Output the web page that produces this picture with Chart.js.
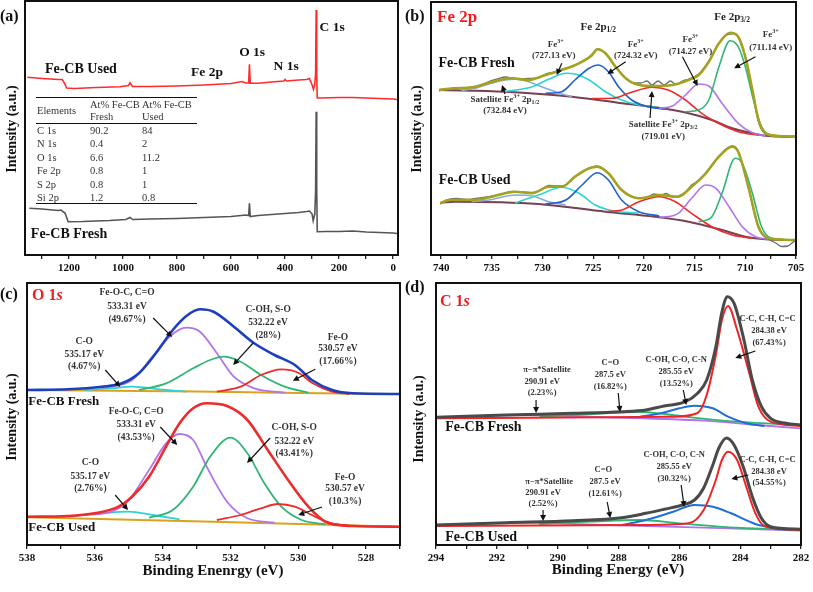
<!DOCTYPE html>
<html><head><meta charset="utf-8">
<script src="https://cdn.jsdelivr.net/npm/chart.js@4.4.1/dist/chart.umd.min.js"></script>
<style>
html,body{margin:0;padding:0;background:#fff;}
body{width:813px;height:592px;overflow:hidden;position:relative;font-family:"Liberation Serif","DejaVu Serif",serif;}
canvas{position:absolute;left:0;top:0;}
.t{position:absolute;white-space:nowrap;font-weight:bold;color:#111;line-height:1;}
.c{transform:translate(-50%,-50%);}
.l{transform:translateY(-50%);}
.r90{transform:translate(-50%,-50%) rotate(-90deg);}
.tb{position:absolute;white-space:nowrap;font-size:10.5px;color:#333;line-height:1;transform:translateY(-50%);}
.hl{position:absolute;height:0;border-top:1.5px solid #111;}
</style></head><body>
<canvas id="pa" width="813" height="592"></canvas>
<canvas id="pb" width="813" height="592"></canvas>
<canvas id="pc" width="813" height="592"></canvas>
<canvas id="pd" width="813" height="592"></canvas>

<div class="t l" style="left:0px;top:16px;font-size:16px;">(a)</div>
<div class="t l" style="left:405px;top:16px;font-size:16px;">(b)</div>
<div class="t l" style="left:0px;top:294px;font-size:16px;">(c)</div>
<div class="t l" style="left:405px;top:287px;font-size:16px;">(d)</div>
<div class="t l" style="left:437px;top:16px;font-size:17px;color:#f01e1e;">Fe 2p</div>
<div class="t l" style="left:32px;top:295px;font-size:16px;color:#f01e1e;">O 1<i>s</i></div>
<div class="t l" style="left:440px;top:301px;font-size:16px;color:#f01e1e;">C 1<i>s</i></div>
<div class="t r90" style="left:12px;top:129px;font-size:14px;">Intensity (a.u.)</div>
<div class="t r90" style="left:417px;top:129px;font-size:14px;">Intensity (a.u.)</div>
<div class="t r90" style="left:12px;top:417px;font-size:14px;">Intensity (a.u.)</div>
<div class="t r90" style="left:419px;top:419px;font-size:14px;">Intensity (a.u.)</div>
<div class="t c" style="left:213px;top:570px;font-size:15px;">Binding Enenrgy (eV)</div>
<div class="t c" style="left:618px;top:569px;font-size:15px;">Binding Energy (eV)</div>

<div id="tbl"></div>

<script>
// ---------------- DATA (binding energy eV, intensity a.u.) ----------------
// (a) survey spectra
const surveyUsed = [[1354,177.7],[1300,176.5],[1240,175.5],[1225,175.5],[1215,171],[1209,167],[1180,166.5],[1100,167.5],[1011,168.3],[980,169.5],[974,172.3],[965,168.5],[900,168.5],[800,169],[700,170],[600,171.5],[560,173.5],[545,172],[535,172],[532,190.7],[529,171.7],[500,171.7],[450,173],[405,174],[400,175.5],[395,174],[350,175],[320,175.5],[310,176.5],[300,170],[295,165.7],[290,171],[287,182],[285,245],[283,182],[281,157],[270,157],[200,157.5],[150,157.5],[100,157],[50,156.5],[0,156],[-14,155.5]];
const surveyFresh = [[1347,46.7],[1300,46],[1240,44.5],[1230,45],[1215,42],[1203,33.3],[1150,33.5],[1050,34.5],[990,35.5],[974,37.5],[965,35.5],[900,36],[800,36.5],[700,37.5],[600,38.5],[545,40],[535,39.5],[532,51.7],[529,38.5],[500,39.5],[450,40.5],[400,41.5],[350,42.5],[320,43.5],[310,44],[300,41],[296,34.3],[290,41],[287,65],[285,143.3],[283,70],[281,23.3],[250,23.5],[200,23.5],[150,24],[100,23],[50,22.5],[0,22],[-14,21.5]];
const tableHeader = ["Elements", "At% Fe-CB Fresh", "At% Fe-CB Used"];
const tableElements = ["C 1s","N 1s","O 1s","Fe 2p","S 2p","Si 2p"];
const atFresh = ["90.2","0.4","6.6","0.8","0.8","1.2"];
const atUsed = ["84","2","11.2","1","1","0.8"];

// (b) Fe 2p
const feFreshRaw = [[740.2,164],[739.5,166],[738.8,165.5],[738,167],[736.9,168],[735.8,171],[735.3,173.5],[734.5,176],[733.6,178],[733.0,177],[732.2,176],[731.4,176.5],[730.5,177],[729.7,181],[728.9,183],[728.1,186],[727.2,188],[726.4,192],[725.6,196],[725.1,201],[724.6,206],[724.2,205],[723.8,202],[722.8,188],[721.8,177],[721,172],[720.3,172],[719.7,174],[719.2,170],[718.6,174],[718.0,170],[717.4,174],[716.8,170.5],[716.2,174],[715.6,176],[714.6,181],[713.6,194],[712.6,212],[712,219],[711.5,221],[711.0,221.5],[710.7,218],[710.0,197],[709.3,163],[708.7,133],[708.0,121],[707.3,119.5],[706.7,118.5],[705.9,118],[705.1,119]];
const feFreshEnv = [[740.2,165],[738.8,166.7],[736.9,167.7],[735.3,172.3],[733.0,176.7],[731.4,175],[729.7,180],[728.1,185],[726.4,191.7],[725.1,200],[724.6,205.7],[723.8,201.7],[722.8,188.3],[721.8,176.7],[720.5,170],[718.9,169],[717.2,170],[715.6,175],[714.6,180],[713.6,193.3],[712.6,211.7],[711.5,222.3],[710.7,218.3],[710.0,198.3],[709.3,165],[708.7,135],[708.0,121.7],[706.7,119],[705.1,118.3]];
const feFreshBase = [[740.2,165],[733.7,163.3],[727.1,158.3],[722.2,151.7],[718.9,147.7],[715.6,141.7],[713.3,135],[711.3,126.7],[709.3,121.7],[707.7,119],[705.1,118.3]];
const feFreshSat = [[738,164.5],[736.5,167],[735.3,171],[733.7,175],[732.7,175.7],[731.4,173.3],[729.7,166.7],[728.1,161],[727.1,158.3]];
const feFreshFe727 = [[733.7,163.5],[731.0,168.3],[729.4,175.7],[727.7,181.7],[726.8,181],[725.4,175],[723.8,163.3],[722.2,155],[720.5,150],[718.9,147.7]];
const feFreshFe724 = [[729.7,161.7],[728.1,163.3],[726.8,175],[725.4,186.7],[724.5,190],[723.5,183.3],[722.5,168.3],[721.2,155],[719.9,149],[717.9,145.7]];
const feFreshSat719 = [[725.1,156.5],[723.1,156.7],[721.5,161.7],[719.2,167.7],[717.6,165],[715.9,155],[714.3,141.7],[712.3,130],[710.7,123.3],[708.7,119.7]];
const feFreshFe714 = [[718.5,146.7],[717.2,149],[715.9,160],[714.6,171],[713.6,169],[712.3,151.7],[710.7,131.7],[709.3,122.3],[708.0,119]];
const feFreshFe711 = [[715.9,143.3],[714.6,145],[713.6,155],[712.6,188.3],[711.5,214.3],[710.7,208.3],[710.0,188.3],[709.2,155],[708.4,128.3],[707.4,120],[705.1,118.3]];
const feUsedRaw = [[740.1,51],[739.5,55],[738.5,56.5],[737.5,55.5],[736.9,56],[735.5,58],[735,59],[734,61],[733,63.5],[732,63],[731,62.5],[730.2,65],[729.4,69.5],[728.6,69],[728.1,69],[727.2,74],[726.8,78.5],[725.4,87],[724.6,89],[723.5,82],[722.2,65],[720.5,57],[719.6,58],[719,61],[718.4,60],[717.8,61.5],[717.2,58],[716.6,59],[715.8,64],[715.3,70],[714.5,75],[713.9,82],[712.6,99],[711.3,109],[710.7,104],[709.7,67],[708.7,27],[707.7,16],[707,12],[706.4,8.5],[705.8,9],[705.4,12],[705.1,14]];
const feUsedEnv = [[740.1,51.7],[739.2,55],[736.9,55],[735.0,58.3],[732.7,63.3],[731.0,61.7],[729.4,68.3],[728.1,68.3],[726.8,78.3],[725.4,86.7],[724.6,88.3],[723.5,81.7],[722.2,65],[720.5,56.7],[718.5,60],[716.6,58.3],[715.3,68.3],[713.9,81.7],[712.6,98.3],[711.3,108.3],[710.7,103.3],[709.7,68.3],[708.7,28.3],[707.7,16.7],[705.1,15]];
const feUsedBase = [[740,52.5],[738.6,53.3],[730.4,51],[723.8,43.3],[718.9,38.3],[715.6,33.3],[712.3,25],[710.0,18.3],[708.0,15.7],[705.1,15]];
const feUsedSat = [[737,53.3],[735.3,55],[732.7,60],[731.0,59],[729.4,53.3],[727.7,50]];
const feUsedFe727 = [[732.7,52],[730.4,60],[728.1,67.7],[726.4,61.7],[724.8,50],[723.1,44.3],[720.5,41.7]];
const feUsedFe724 = [[729.7,51],[727.7,55],[726.1,70],[724.6,82.3],[723.5,75],[722.2,55],[720.5,43.3],[718.5,39]];
const feUsedSat719 = [[723.8,43.5],[722.2,45],[720.5,53.3],[718.5,58.3],[716.9,53.3],[715.3,41.7],[713.3,28.3],[711.3,20],[709.3,16.7]];
const feUsedFe714 = [[718.5,37.3],[716.6,41.7],[715.3,56.7],[713.9,70],[712.9,66.7],[711.6,48.3],[710.3,28.3],[709.0,18.3],[707.7,15.7]];
const feUsedFe711 = [[714.6,33.3],[713.3,38.3],[712.3,61.7],[711.0,96.7],[710.3,91.7],[709.3,61.7],[708.4,28.3],[707.4,16.7],[705.1,15]];

// (c) O 1s
const oFreshEnv = [[538,155],[536.8,155.7],[535.8,158.3],[535.2,161.7],[534.7,171.7],[534.2,191.7],[533.7,215],[533.3,229],[532.9,235.7],[532.5,233.3],[531.9,218.3],[531.3,201.7],[530.7,190],[530.1,180],[529.6,165],[529.0,155],[528.4,151.7],[527,151]];
const oFreshBase = [[538,155],[533,153.5],[530,152],[527,151]];
const oFreshCO535 = [[536.3,155],[535.5,156.7],[534.9,158.3],[534.1,155.7],[533.3,153.3]];
const oFreshFeOC = [[535.8,156.7],[534.9,165],[534.3,188.3],[533.8,208.3],[533.3,217.3],[532.9,213.3],[532.4,191.7],[531.9,168.3],[531.3,156.7],[530.4,152.3]];
const oFreshCOH = [[534.7,155],[533.9,161.7],[533.1,176.7],[532.6,185],[532.2,188.3],[531.7,183.3],[531.1,170],[530.4,158.3],[529.7,152.3]];
const oFreshFeO = [[532.4,153.3],[531.7,158.3],[531.1,170],[530.5,175.7],[530.0,172.3],[529.6,162.3],[529.0,153.3],[528.5,151]];
const oUsedEnv = [[538,28.3],[536.8,29],[536.0,31.7],[535.3,38.3],[534.9,48.3],[534.4,68.3],[533.9,98.3],[533.5,121.7],[533.1,136.7],[532.7,141.7],[532.1,139],[531.5,125],[530.9,95],[530.3,65],[529.7,38.3],[529.2,23.3],[528.4,19],[527,18.3]];
const oUsedBase = [[538,27.7],[532.5,23.3],[527,18.3]];
const oUsedCO535 = [[536.8,28.3],[535.8,31.7],[535.0,33.3],[534.3,30],[533.5,25.7]];
const oUsedFeOC = [[536.3,30],[535.5,33.3],[535.0,45],[534.4,75],[533.9,101.7],[533.5,111],[533.1,105],[532.7,78.3],[532.1,43.3],[531.5,26.7],[530.7,22.3]];
const oUsedCOH = [[534.4,27.3],[533.7,35],[533.1,58.3],[532.6,88.3],[532.0,107.3],[531.5,91.7],[531.0,61.7],[530.5,38.3],[529.9,25],[529.2,20.7]];
const oUsedFeO = [[532.4,25],[531.7,30],[531.1,36.7],[530.6,41],[530.1,38.3],[529.6,30],[529.1,22.3],[528.5,19]];

// (d) C 1s
const cFreshEnv = [[294,127.7],[291.7,130],[289.5,131.7],[287.9,133.3],[287.1,135],[286.5,139],[285.8,143.3],[285.4,151.7],[285.1,165],[284.8,198.3],[284.6,233],[284.42,248.3],[284.2,241.7],[283.9,208.3],[283.6,165],[283.3,138.3],[283.0,126.7],[282.5,121.7],[282,120]];
const cFreshCC = [[294,126.7],[288.4,127.7],[286.2,128.3],[285.4,132],[285.1,150],[284.8,190],[284.6,225],[284.4,239],[284.1,215],[283.7,171.7],[283.4,138.3],[283.0,123.3],[282,119]];
const cFreshCOH = [[287.3,128.3],[286.6,131.7],[286.0,136.7],[285.5,139.3],[284.9,136.7],[284.4,128.3],[283.8,121.7],[283.2,119]];
const cFreshCO = [[290.6,128.3],[288.9,131],[287.3,133],[286.5,131],[285.6,127.7],[284.1,123.3],[282,119.7]];
const cFreshSat = [[294,127.3],[291.2,130],[288.4,127.7],[285.2,124.3],[283.0,119],[282,116.7]];
const cUsedEnv = [[294,20],[291.7,22.3],[289.5,24.3],[287.9,27.3],[287.1,31.7],[286.5,35.7],[285.9,40],[285.5,45],[285.2,57],[284.9,80],[284.7,97],[284.45,107],[284.2,100],[283.9,78.3],[283.6,48.3],[283.3,26.7],[283.0,18.3],[282,15.7]];
const cUsedCC = [[294,19],[287.3,20],[285.7,21.7],[285.2,35],[284.8,65],[284.6,85],[284.4,93.3],[284.1,85],[283.8,58.3],[283.5,31.7],[283.2,19],[282,15]];
const cUsedCOH = [[287.9,20],[287.1,25],[286.2,33.3],[285.5,40],[284.9,38.3],[284.3,31.7],[283.5,21],[282.7,15.7]];
const cUsedCO = [[290.6,21],[288.9,23.3],[287.3,25],[286.0,21.7],[284.1,17.3],[282,15]];
const cUsedSat = [[294,19.7],[291.2,22.3],[288.4,20],[285.2,17.3],[282,14.3]];

// ---------------- rendering ----------------
const SERIF = '"Liberation Serif","DejaVu Serif",serif';
const W = 813, H = 592;

function drawRich(ctx, n, x, y){
  const size = n.size || 9;
  const weight = n.weight || 'bold';
  const segs = (typeof n.text === 'string') ? [[n.text, '']] : n.text.map(p => typeof p === 'string' ? [p, ''] : p);
  const meas = []; let w = 0;
  segs.forEach(([t, m]) => {
    const s = m ? size * 0.68 : size;
    ctx.font = `${weight} ${s}px ${SERIF}`;
    const mw = ctx.measureText(t).width;
    meas.push([t, m, s, mw]); w += mw;
  });
  let cx = n.align === 'left' ? x : x - w / 2;
  ctx.textBaseline = 'middle'; ctx.textAlign = 'left';
  ctx.fillStyle = n.color || '#333';
  meas.forEach(([t, m, s, mw]) => {
    ctx.font = `${weight} ${s}px ${SERIF}`;
    const dy = m === 'sup' ? -size * 0.38 : (m === 'sub' ? size * 0.3 : 0);
    ctx.fillText(t, cx, y + dy); cx += mw;
  });
}
function drawArrow(ctx, x1, y1, x2, y2){
  const a = Math.atan2(y2 - y1, x2 - x1), hl = 6, hw = 3;
  ctx.strokeStyle = '#111'; ctx.fillStyle = '#111'; ctx.lineWidth = 1.2;
  ctx.beginPath(); ctx.moveTo(x1, y1);
  ctx.lineTo(x2 - Math.cos(a) * hl * 0.8, y2 - Math.sin(a) * hl * 0.8); ctx.stroke();
  ctx.beginPath(); ctx.moveTo(x2, y2);
  ctx.lineTo(x2 - Math.cos(a) * hl - Math.sin(a) * hw, y2 - Math.sin(a) * hl + Math.cos(a) * hw);
  ctx.lineTo(x2 - Math.cos(a) * hl + Math.sin(a) * hw, y2 - Math.sin(a) * hl - Math.cos(a) * hw);
  ctx.closePath(); ctx.fill();
}

function ds(data, color, width, smooth){
  return { data: data.map(p => ({x: p[0], y: p[1]})), borderColor: color, borderWidth: width,
    pointRadius: 0, fill: false, tension: smooth === false ? 0 : 0.4,
    cubicInterpolationMode: smooth === false ? 'default' : 'monotone' };
}

function panel(id, box, xr, ymax, step, labelEvery, datasets, notes, arrows){
  const XH = 22;
  const overlay = {
    id: 'overlay_' + id,
    afterDatasetsDraw(chart){
      const {ctx, chartArea: a, scales: {x, y}} = chart;
      ctx.save();
      (notes || []).forEach(n => drawRich(ctx, n, x.getPixelForValue(n.x), y.getPixelForValue(n.y)));
      (arrows || []).forEach(r => drawArrow(ctx, x.getPixelForValue(r[0]), y.getPixelForValue(r[1]), x.getPixelForValue(r[2]), y.getPixelForValue(r[3])));
      ctx.strokeStyle = '#111'; ctx.lineWidth = 2;
      ctx.strokeRect(a.left, a.top, a.right - a.left, a.bottom - a.top);
      ctx.restore();
    }
  };
  return new Chart(document.getElementById(id), {
    type: 'line',
    data: { datasets },
    options: {
      responsive: false, animation: false, parsing: false, normalized: true,
      events: [],
      layout: { padding: { left: box[0], top: box[1], right: W - box[2], bottom: H - box[3] - XH } },
      plugins: { legend: { display: false }, tooltip: { enabled: false } },
      scales: {
        x: { type: 'linear', reverse: true, min: xr[1], max: xr[0],
             afterFit(s){ s.height = XH; },
             border: { display: true, color: '#111', width: 2 },
             grid: { drawOnChartArea: false, drawTicks: true, tickLength: 4, color: '#222', lineWidth: 1.3 },
             ticks: { stepSize: step, includeBounds: false, autoSkip: false, maxRotation: 0, padding: 3,
                      color: '#111', font: { family: SERIF, weight: 'bold', size: 11 },
                      callback: v => (Math.abs(v / labelEvery - Math.round(v / labelEvery)) < 1e-6) ? String(Math.round(v)) : '' } },
        y: { type: 'linear', display: false, min: 0, max: ymax }
      }
    },
    plugins: [overlay]
  });
}

// (a)
panel('pa', [25, 1, 398, 255], [1363, -18], 254, 100, 200, [
  ds(surveyUsed, '#ff2b2b', 1.6, false),
  ds(surveyFresh, '#555555', 1.6, false)
], [
  {x: 226, y: 227, text: 'C 1s', size: 13.5, color: '#111'},
  {x: 522, y: 202, text: 'O 1s', size: 13.5, color: '#111'},
  {x: 396, y: 188, text: 'N 1s', size: 13.5, color: '#111'},
  {x: 689, y: 182, text: 'Fe 2p', size: 13.5, color: '#111'},
  {x: 1156, y: 186, text: 'Fe-CB Used', size: 14, color: '#111'},
  {x: 1200, y: 21, text: 'Fe-CB Fresh', size: 14, color: '#111'}
], []);

// (b)
const cEnvB = '#a3a31f', cRaw = '#6e6e6e', cBase = '#7a3f52', cSat = '#86abd9', cCy = '#2fd3d3', cBl = '#1f63c9', cRd = '#ee2b2b', cPu = '#b274ea', cGr = '#2fb574';
panel('pb', [431, 2, 796, 255], [741, 705], 253, 2.5, 5, [
  ds(feFreshEnv, cEnvB, 2.6), ds(feFreshRaw, cRaw, 1.3),
  ds(feFreshFe711, cGr, 1.6), ds(feFreshFe714, cPu, 1.6), ds(feFreshSat719, cRd, 1.6),
  ds(feFreshFe724, cBl, 1.6), ds(feFreshFe727, cCy, 1.6), ds(feFreshSat, cSat, 1.6), ds(feFreshBase, cBase, 2),
  ds(feUsedEnv, cEnvB, 2.6), ds(feUsedRaw, cRaw, 1.3),
  ds(feUsedFe711, cGr, 1.6), ds(feUsedFe714, cPu, 1.6), ds(feUsedSat719, cRd, 1.6),
  ds(feUsedFe724, cBl, 1.6), ds(feUsedFe727, cCy, 1.6), ds(feUsedSat, cSat, 1.6), ds(feUsedBase, cBase, 2)
], [
  {x: 724.5, y: 228, text: ['Fe 2p', ['1/2', 'sub']], size: 11, color: '#222'},
  {x: 711.3, y: 238, text: ['Fe 2p', ['3/2', 'sub']], size: 11, color: '#222'},
  {x: 728.7, y: 210, text: ['Fe', ['3+', 'sup']], size: 9},
  {x: 728.9, y: 199, text: '(727.13 eV)', size: 9},
  {x: 720.8, y: 210, text: ['Fe', ['3+', 'sup']], size: 9},
  {x: 720.8, y: 199, text: '(724.32 eV)', size: 9},
  {x: 715.4, y: 215, text: ['Fe', ['3+', 'sup']], size: 9},
  {x: 715.4, y: 203, text: '(714.27 eV)', size: 9},
  {x: 707.5, y: 220, text: ['Fe', ['3+', 'sup']], size: 9},
  {x: 707.5, y: 207, text: '(711.14 eV)', size: 9},
  {x: 733.7, y: 155, text: ['Satellite Fe', ['3+', 'sup'], ' 2p', ['1/2', 'sub']], size: 9},
  {x: 733.7, y: 144, text: '(732.84 eV)', size: 9},
  {x: 718.1, y: 130, text: ['Satellite Fe', ['3+', 'sup'], ' 2p', ['3/2', 'sub']], size: 9},
  {x: 718.1, y: 118, text: '(719.01 eV)', size: 9},
  {x: 736.5, y: 192, text: 'Fe-CB Fresh', size: 14, color: '#111'},
  {x: 736.7, y: 75, text: 'Fe-CB Used', size: 14, color: '#111'}
], [
  [728.1, 191.7, 728.6, 180], [721.8, 193.3, 723.6, 181], [716.2, 198.3, 714.7, 169],
  [709.0, 198.3, 711.1, 186.7], [733.7, 161, 734.0, 170], [719.4, 137, 719.2, 164]
]);

// (c)
const cGold = '#d9a21f';
panel('pc', [27, 283, 400, 545], [538, 527], 262, 1, 2, [
  ds(oFreshEnv, '#1c3fc0', 2.6), ds(oFreshFeO, cRd, 1.8), ds(oFreshCOH, cGr, 1.8),
  ds(oFreshFeOC, cPu, 1.8), ds(oFreshCO535, cCy, 1.8), ds(oFreshBase, cGold, 2),
  ds(oUsedEnv, '#ee2b2b', 2.6), ds(oUsedFeO, cRd, 1.8), ds(oUsedCOH, cGr, 1.8),
  ds(oUsedFeOC, cPu, 1.8), ds(oUsedCO535, cCy, 1.8), ds(oUsedBase, cGold, 2)
], [
  {x: 535.05, y: 252, text: 'Fe-O-C, C=O', size: 9.5}, {x: 535.05, y: 238, text: '533.31 eV', size: 9.5}, {x: 535.05, y: 225, text: '(49.67%)', size: 9.5},
  {x: 530.89, y: 235, text: 'C-OH, S-O', size: 9.5}, {x: 530.89, y: 222, text: '532.22 eV', size: 9.5}, {x: 530.89, y: 209, text: '(28%)', size: 9.5},
  {x: 528.83, y: 207, text: 'Fe-O', size: 9.5}, {x: 528.83, y: 196, text: '530.57 eV', size: 9.5}, {x: 528.83, y: 183, text: '(17.66%)', size: 9.5},
  {x: 536.31, y: 203, text: 'C-O', size: 9.5}, {x: 536.31, y: 190, text: '535.17 eV', size: 9.5}, {x: 536.31, y: 178, text: '(4.67%)', size: 9.5},
  {x: 537.96, y: 143, text: 'Fe-CB Fresh', size: 13, align: 'left', color: '#111'},
  {x: 534.78, y: 133, text: 'Fe-O-C, C=O', size: 9.5}, {x: 534.78, y: 120, text: '533.31 eV', size: 9.5}, {x: 534.78, y: 107, text: '(43.53%)', size: 9.5},
  {x: 530.12, y: 117, text: 'C-OH, S-O', size: 9.5}, {x: 530.12, y: 103, text: '532.22 eV', size: 9.5}, {x: 530.12, y: 91, text: '(43.41%)', size: 9.5},
  {x: 536.13, y: 82, text: 'C-O', size: 9.5}, {x: 536.13, y: 68, text: '535.17 eV', size: 9.5}, {x: 536.13, y: 56, text: '(2.76%)', size: 9.5},
  {x: 528.62, y: 67, text: 'Fe-O', size: 9.5}, {x: 528.62, y: 56, text: '530.57 eV', size: 9.5}, {x: 528.62, y: 43, text: '(10.3%)', size: 9.5},
  {x: 537.96, y: 17, text: 'Fe-CB Used', size: 13, align: 'left', color: '#111'}
], [
  [534.28, 227, 533.72, 208], [531.33, 202, 531.92, 180], [529.5, 175.7, 530.16, 164.3], [535.69, 175, 535.25, 158],
  [534.07, 118, 533.57, 100], [530.83, 107, 531.51, 82], [535.4, 50, 535.02, 35], [529.3, 38, 530.0, 30]
]);

// (d)
panel('pd', [436, 283, 801, 545], [294, 282], 262, 1, 2, [
  ds(cFreshEnv, '#4a4a4a', 3), ds(cFreshCC, '#f02424', 2), ds(cFreshCOH, '#1f6fd6', 2),
  ds(cFreshCO, cGr, 1.8), ds(cFreshSat, cPu, 1.8),
  ds(cUsedEnv, '#4a4a4a', 3), ds(cUsedCC, '#f02424', 2), ds(cUsedCOH, '#1f6fd6', 2),
  ds(cUsedCO, cGr, 1.8), ds(cUsedSat, cPu, 1.8)
], [
  {x: 283.1, y: 226, text: 'C-C, C-H, C=C', size: 8.5}, {x: 283.05, y: 214, text: '284.38 eV', size: 8.5}, {x: 283.05, y: 202, text: '(67.43%)', size: 8.5},
  {x: 286.1, y: 185, text: 'C-OH, C-O, C-N', size: 8.5}, {x: 286.1, y: 173, text: '285.55 eV', size: 8.5}, {x: 286.1, y: 161, text: '(13.52%)', size: 8.5},
  {x: 288.27, y: 182, text: 'C=O', size: 8.5}, {x: 288.27, y: 170, text: '287.5 eV', size: 8.5}, {x: 288.27, y: 158, text: '(16.82%)', size: 8.5},
  {x: 290.35, y: 175, text: 'π−π*Satellite', size: 8.5}, {x: 290.51, y: 163, text: '290.91 eV', size: 8.5}, {x: 290.51, y: 152, text: '(2.23%)', size: 8.5},
  {x: 293.7, y: 118, text: 'Fe-CB Fresh', size: 14, align: 'left', color: '#111'},
  {x: 283.1, y: 85, text: 'C-C, C-H, C=C', size: 8.5}, {x: 283.05, y: 73, text: '284.38 eV', size: 8.5}, {x: 283.05, y: 62, text: '(54.55%)', size: 8.5},
  {x: 286.17, y: 90, text: 'C-OH, C-O, C-N', size: 8.5}, {x: 286.17, y: 78, text: '285.55 eV', size: 8.5}, {x: 286.17, y: 66, text: '(30.32%)', size: 8.5},
  {x: 288.5, y: 75, text: 'C=O', size: 8.5}, {x: 288.44, y: 63, text: '287.5 eV', size: 8.5}, {x: 288.44, y: 51, text: '(12.61%)', size: 8.5},
  {x: 290.28, y: 63, text: 'π−π*Satellite', size: 8.5}, {x: 290.48, y: 52, text: '290.91 eV', size: 8.5}, {x: 290.48, y: 41, text: '(2.52%)', size: 8.5},
  {x: 293.7, y: 8, text: 'Fe-CB Used', size: 14, align: 'left', color: '#111'}
], [
  [283.5, 194, 284.16, 187], [285.87, 155, 285.77, 140], [288.01, 152, 287.95, 133], [290.71, 145, 290.71, 132],
  [283.73, 70, 284.29, 66], [285.94, 60, 285.84, 38], [288.37, 43, 288.27, 27], [290.48, 35, 290.48, 24]
]);

// inset table in (a)
(function(){
  const t = document.getElementById('tbl');
  const cols = [37, 90, 142];
  let h = '';
  h += `<div class="hl" style="left:36px;top:97px;width:161px;"></div>`;
  h += `<div class="tb" style="left:${cols[0]}px;top:111px;">${tableHeader[0]}</div>`;
  [1, 2].forEach(i => {
    const words = tableHeader[i].split(' ');
    h += `<div class="tb" style="left:${cols[i]}px;top:105px;">${words.slice(0, 2).join(' ')}</div>`;
    h += `<div class="tb" style="left:${cols[i]}px;top:117px;">${words.slice(2).join(' ')}</div>`;
  });
  h += `<div class="hl" style="left:36px;top:123px;width:161px;"></div>`;
  tableElements.forEach((e, i) => {
    const top = 131 + i * 13.4;
    h += `<div class="tb" style="left:${cols[0]}px;top:${top}px;">${e}</div>`;
    h += `<div class="tb" style="left:${cols[1]}px;top:${top}px;">${atFresh[i]}</div>`;
    h += `<div class="tb" style="left:${cols[2]}px;top:${top}px;">${atUsed[i]}</div>`;
  });
  h += `<div class="hl" style="left:36px;top:203px;width:161px;"></div>`;
  t.innerHTML = h;
})();
</script>
</body></html>
